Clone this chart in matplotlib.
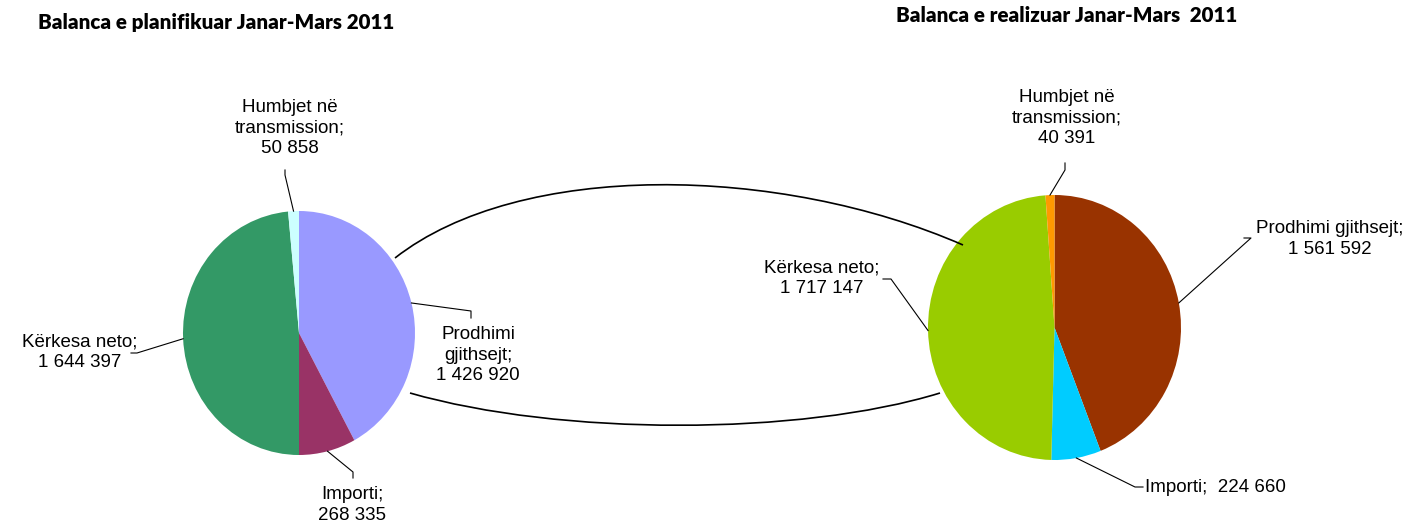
import numpy as np
import matplotlib
matplotlib.use('Agg')
import matplotlib.pyplot as plt
import matplotlib.transforms as mtransforms
from matplotlib.lines import Line2D
from matplotlib.path import Path
from matplotlib.patches import PathPatch

W, H = 1407, 531

# Data: order clockwise from 12 o'clock
names = ['Prodhimi gjithsejt', 'Importi', 'Kërkesa neto', 'Humbjet në transmission']
plan_values = [1426920, 268335, 1644397, 50858]
real_values = [1561592, 224660, 1717147, 40391]
plan_colors = ['#9999FF', '#993366', '#339966', '#CCFFFF']
real_colors = ['#993300', '#00CCFF', '#99CC00', '#FF9900']
plan_title = 'Balanca e planifikuar Janar-Mars 2011'
real_title = 'Balanca e realizuar Janar-Mars  2011'


def fmt(v):
    return f"{v:,}".replace(',', ' ')


plan_labels = ['Prodhimi\ngjithsejt;\n' + fmt(plan_values[0]),
               'Importi;\n' + fmt(plan_values[1]),
               'Kërkesa neto;\n' + fmt(plan_values[2]),
               'Humbjet në\ntransmission;\n' + fmt(plan_values[3])]
real_labels = ['Prodhimi gjithsejt;\n' + fmt(real_values[0]),
               'Importi;  ' + fmt(real_values[1]),
               'Kërkesa neto;\n' + fmt(real_values[2]),
               'Humbjet në\ntransmission;\n' + fmt(real_values[3])]

# layout in pixels (from top-left): pie centre, radii
plan_geom = (299, 333, 116, 122)
real_geom = (1054.5, 327.5, 126.5, 132.5)

# label layout: text anchor, alignment, leader elbow points
plan_layout = [((478, 355), 'center', [(471, 311), (471, 318)]),
               ((352, 505), 'center', [(353, 472), (353, 478)]),
               ((80, 352), 'center', [(137, 353), (131, 353)]),
               ((290, 128), 'center', [(285, 175), (285, 170)])]
real_layout = [((1330, 239), 'center', [(1251, 238), (1244, 238)]),
               ((1145, 487), 'left', [(1135, 487), (1143, 487)]),
               ((822, 278), 'center', [(891, 279), (883, 279)]),
               ((1067, 118), 'center', [(1065, 170), (1065, 163)])]

fig = plt.figure(figsize=(W / 100, H / 100), dpi=100)
pix = mtransforms.Affine2D().scale(1 / W, -1 / H).translate(0, 1) + fig.transFigure

label_font = dict(family='Liberation Sans', fontsize=13.5, color='black')


def draw_pie(values, colors, labels, geom, layout):
    cx, cy, rx, ry = geom
    ax = fig.add_axes([(cx - rx) / W, 1 - (cy + ry) / H, 2 * rx / W, 2 * ry / H])
    ax.pie(values, colors=colors, startangle=90, counterclock=False,
           radius=1, wedgeprops=dict(linewidth=0))
    ax.set_aspect('auto')
    ax.set_xlim(-1, 1)
    ax.set_ylim(-1, 1)
    ax.axis('off')

    fr = np.array(values) / np.sum(values)
    mids = np.cumsum(fr) - fr / 2
    for mid, text, (pos, ha, elbows) in zip(mids, labels, layout):
        th = np.deg2rad(90 - 360 * mid)
        wx, wy = cx + rx * np.cos(th), cy - ry * np.sin(th)
        xs = [wx] + [e[0] for e in elbows]
        ys = [wy] + [e[1] for e in elbows]
        fig.add_artist(Line2D(xs, ys, transform=pix, color='black', lw=0.8))
        fig.text(pos[0], pos[1], text, transform=pix, ha=ha, va='center',
                 multialignment='center', linespacing=1.27, **label_font)


draw_pie(plan_values, plan_colors, plan_labels, plan_geom, plan_layout)
draw_pie(real_values, real_colors, real_labels, real_geom, real_layout)

# connecting curves between the two pies
upper = Path([(395, 258), (520, 160), (780, 165), (963, 245)],
             [Path.MOVETO, Path.CURVE4, Path.CURVE4, Path.CURVE4])
lower = Path([(410, 393), (560, 436), (800, 436), (940, 393)],
             [Path.MOVETO, Path.CURVE4, Path.CURVE4, Path.CURVE4])
for p in (upper, lower):
    fig.add_artist(PathPatch(p, transform=pix, fill=False, lw=1.2, edgecolor='black'))

title_font = dict(family='Lato', fontweight='heavy', fontsize=14.8, color='black')
fig.text(216, 22, plan_title, transform=pix, ha='center', va='center', **title_font)
fig.text(1067, 16, real_title, transform=pix, ha='center', va='center', **title_font)

fig.savefig('out.png', dpi=100, facecolor='white')
